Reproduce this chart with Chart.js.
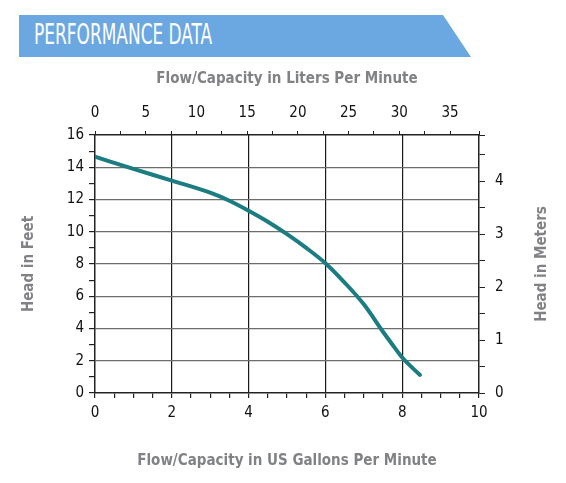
<!DOCTYPE html>
<html>
<head>
<meta charset="utf-8">
<script src="https://cdn.jsdelivr.net/npm/chart.js@4/dist/chart.umd.min.js"></script>
<style>
  html, body { margin: 0; padding: 0; background: #fff; }
  #wrap { position: relative; width: 566px; height: 483px; overflow: hidden; }
  #band { position: absolute; left: 19px; top: 15px; width: 452px; height: 42px; background: #6ba7e1;
          clip-path: polygon(0 0, 424px 0, 452px 42px, 0 42px); }
  #bandText { position: absolute; left: 34px; top: 16px; color: #fff; font-family: 'Liberation Sans Narrow', 'DejaVu Sans Condensed', sans-serif;
              font-size: 29px; line-height: 36px; white-space: nowrap; transform-origin: 0 0; }
  canvas { position: absolute; left: 0; top: 0; }
</style>
</head>
<body>
<div id="wrap">
  <div id="band"></div>
  <div id="bandText">PERFORMANCE DATA</div>
  <canvas id="c" width="566" height="483"></canvas>
</div>
<script>
// ---- data ----
const flowGpm = [0, 1, 2, 3, 3.5, 4, 4.5, 5, 5.5, 6, 6.5, 7, 7.5, 7.7, 8, 8.46];
const headFeet = [14.65, 13.9, 13.17, 12.42, 11.92, 11.3, 10.62, 9.85, 9.0, 8.05, 6.85, 5.5, 3.8, 3.15, 2.2, 1.12];
const gpmTickLabels = [0, 2, 4, 6, 8, 10];
const literTickLabels = [0, 5, 10, 15, 20, 25, 30, 35];
const feetTickLabels = [0, 2, 4, 6, 8, 10, 12, 14, 16];
const meterTickLabels = [0, 1, 2, 3, 4];

const GAL_TO_L = 3.78541;
const FT_TO_M = 0.3048;
const GPM_MAX = 10, FT_MAX = 16;

// header text fit
const bt = document.getElementById('bandText');
const w = bt.getBoundingClientRect().width;
bt.style.transform = 'scaleX(' + (178 / w) + ')';

const fam = "'Liberation Sans Narrow', 'DejaVu Sans Condensed', sans-serif";
const tickFont = { family: fam, size: 15 };
const titleFont = { family: fam, size: 15, weight: 'bold' };
const titleColor = '#808285';
const axisColor = '#222';
const rightTitle = 'Head in Meters';

const points = flowGpm.map((x, i) => ({ x: x, y: headFeet[i] }));

// draws the right-axis title reading bottom-to-top, like the left one
const rightTitlePlugin = {
  id: 'rightTitle',
  afterDraw(chart) {
    const s = chart.scales.y2;
    const ctx = chart.ctx;
    ctx.save();
    ctx.font = 'bold ' + titleFont.size + 'px ' + fam;
    ctx.fillStyle = titleColor;
    ctx.textAlign = 'center';
    ctx.textBaseline = 'middle';
    ctx.translate(s.right - 15 - titleFont.size * 0.6, (s.top + s.bottom) / 2);
    ctx.rotate(-Math.PI / 2);
    ctx.fillText(rightTitle, 0, 0);
    ctx.restore();
  }
};

new Chart(document.getElementById('c'), {
  type: 'line',
  data: {
    datasets: [{
      data: points,
      borderColor: '#1b7c82',
      borderWidth: 4,
      pointRadius: 0,
      fill: false,
      cubicInterpolationMode: 'monotone',
      borderCapStyle: 'round',
      xAxisID: 'x', yAxisID: 'y'
    }]
  },
  plugins: [rightTitlePlugin],
  options: {
    responsive: false,
    animation: false,
    plugins: { legend: { display: false }, tooltip: { enabled: false } },
    layout: { padding: 0 },
    scales: {
      x: {
        type: 'linear', position: 'bottom', min: 0, max: GPM_MAX,
        afterFit: s => { s.height = 90; },
        border: { display: true, color: axisColor, width: 1.5 },
        grid: {
          color: c => (c.tick && gpmTickLabels.includes(c.tick.value) && c.tick.value > 0 && c.tick.value < GPM_MAX) ? '#1a1a1a' : 'rgba(0,0,0,0)',
          tickColor: axisColor, tickLength: 5, lineWidth: 1.2
        },
        ticks: {
          stepSize: 0.5, autoSkip: false, maxRotation: 0, padding: 6, color: '#111', font: tickFont,
          callback: v => gpmTickLabels.includes(v) ? String(v) : ''
        },
        title: { display: true, text: 'Flow/Capacity in US Gallons Per Minute', color: titleColor, font: titleFont, padding: { top: 0, bottom: 13 } }
      },
      x2: {
        type: 'linear', position: 'top', min: 0, max: GPM_MAX * GAL_TO_L,
        afterFit: s => { s.height = 135; },
        border: { display: true, color: axisColor, width: 1.5 },
        grid: { drawOnChartArea: false, tickColor: axisColor, tickLength: 4 },
        ticks: {
          stepSize: 2.5, autoSkip: false, maxRotation: 0, padding: 9, color: '#111', font: tickFont,
          callback: v => literTickLabels.includes(v) ? String(v) : ''
        },
        title: { display: true, text: 'Flow/Capacity in Liters Per Minute', color: titleColor, font: titleFont, padding: { top: 70, bottom: 0 } }
      },
      y: {
        type: 'linear', position: 'left', min: 0, max: FT_MAX,
        afterFit: s => { s.width = 95; },
        border: { display: true, color: axisColor, width: 1.5 },
        grid: {
          color: c => (c.tick && feetTickLabels.includes(c.tick.value) && c.tick.value > 0 && c.tick.value < FT_MAX) ? '#6d6d6d' : 'rgba(0,0,0,0)',
          tickColor: axisColor, tickLength: 6, lineWidth: 1.2
        },
        ticks: {
          stepSize: 1, autoSkip: false, padding: 5, color: '#111', font: tickFont,
          callback: v => feetTickLabels.includes(v) ? String(v) : ''
        },
        title: { display: true, text: 'Head in Feet', color: titleColor, font: titleFont, padding: { top: 20, bottom: 0 } }
      },
      y2: {
        type: 'linear', position: 'right', min: 0, max: FT_MAX * FT_TO_M,
        afterFit: s => { s.width = 87; },
        border: { display: true, color: axisColor, width: 1.5 },
        grid: { drawOnChartArea: false, tickColor: axisColor, tickLength: 6 },
        ticks: {
          stepSize: 0.5, autoSkip: false, padding: 10, color: '#111', font: tickFont,
          callback: v => meterTickLabels.includes(v) ? String(v) : ''
        },
        title: { display: false }
      }
    }
  }
});
</script>
</body>
</html>
